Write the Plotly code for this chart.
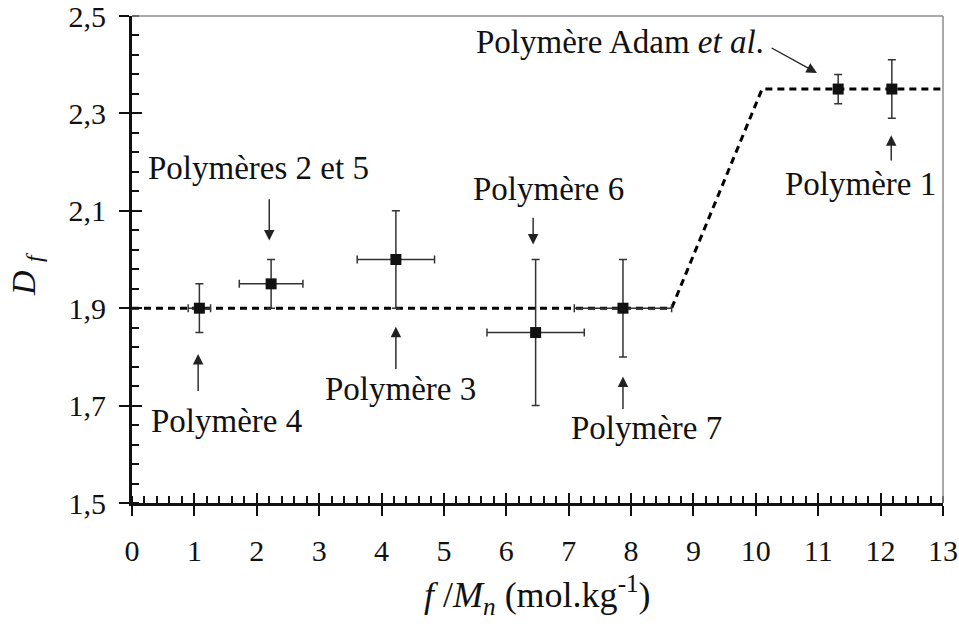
import plotly.graph_objects as go

# Measured fractal dimension D_f versus f/Mn for each polymer
f_mn = [1.08, 2.23, 4.23, 6.47, 7.87, 11.32, 12.18]
d_f = [1.90, 1.95, 2.00, 1.85, 1.90, 2.35, 2.35]
err_d = [0.05, 0.05, 0.10, 0.15, 0.10, 0.03, 0.06]
err_f = [0.18, 0.51, 0.62, 0.78, 0.78, 0.0, 0.0]

# Guide line: two plateaus joined by a ramp
guide_x = [0, 8.65, 10.1, 13]
guide_y = [1.90, 1.90, 2.35, 2.35]

# Axis tick values
x_ticks = [0, 1, 2, 3, 4, 5, 6, 7, 8, 9, 10, 11, 12, 13]
y_ticks = [1.5, 1.7, 1.9, 2.1, 2.3, 2.5]

# Labels: text position, arrow tail, arrow tip (data coordinates)
labels = ["Polymère 4", "Polymères 2 et 5", "Polymère 3", "Polymère 6",
          "Polymère 7", "Polymère Adam <i>et al</i>.", "Polymère 1"]
label_x = [1.51, 2.03, 4.31, 6.67, 8.24, 7.83, 11.68]
label_y = [1.669, 2.188, 1.735, 2.145, 1.653, 2.447, 2.155]
arrow_x0 = [1.06, 2.20, 4.23, 6.43, 7.87, 10.23, 12.17]
arrow_y0 = [1.727, 2.127, 1.772, 2.089, 1.690, 2.436, 2.200]
arrow_x1 = [1.06, 2.20, 4.23, 6.43, 7.87, 10.98, 12.17]
arrow_y1 = [1.806, 2.039, 1.862, 2.031, 1.760, 2.383, 2.255]

FONT = "Liberation Serif, Times New Roman, DejaVu Serif, serif"

fig = go.Figure()

fig.add_trace(go.Scatter(
    x=guide_x, y=guide_y, mode="lines",
    line=dict(color="black", width=3, dash="7px,5px"),
    hoverinfo="skip", showlegend=False,
))

fig.add_trace(go.Scatter(
    x=f_mn, y=d_f, mode="markers",
    marker=dict(symbol="square", size=11, color="#111111"),
    error_y=dict(type="data", array=err_d, visible=True,
                 color="#333333", thickness=1.5, width=4),
    error_x=dict(type="data", array=err_f, visible=True,
                 color="#333333", thickness=1.5, width=4),
    showlegend=False,
))

annotations = []
for t, lx, ly in zip(labels, label_x, label_y):
    annotations.append(dict(
        x=lx, y=ly, xref="x", yref="y", text=t, showarrow=False,
        font=dict(family=FONT, size=33, color="#111111"),
        xanchor="center", yanchor="middle",
    ))
for x0, y0, x1, y1 in zip(arrow_x0, arrow_y0, arrow_x1, arrow_y1):
    annotations.append(dict(
        x=x1, y=y1, ax=x0, ay=y0, xref="x", yref="y", axref="x", ayref="y",
        text="", showarrow=True, arrowhead=2, arrowsize=1.5,
        arrowwidth=1.4, arrowcolor="#222222", standoff=0, startstandoff=0,
    ))

# Axis titles
annotations.append(dict(
    x=0.5, y=0, xref="paper", yref="paper", yanchor="top", yshift=-65,
    text="<i>f</i> /<i>M</i><sub><i>n</i></sub> (mol.kg<sup>-1</sup>)",
    showarrow=False, font=dict(family=FONT, size=36, color="#111111"),
))
annotations.append(dict(
    x=0, y=0.47, xref="paper", yref="paper", xanchor="center",
    yanchor="middle", xshift=-106, textangle=-90,
    text="<i>D</i> <sub><i>f</i></sub>",
    showarrow=False, font=dict(family=FONT, size=34, color="#111111"),
))

fig.update_layout(
    width=959, height=628,
    margin=dict(l=132, r=16, t=16, b=124.5, pad=0),
    plot_bgcolor="white", paper_bgcolor="white",
    separators=", ",
    font=dict(family=FONT, size=30, color="#111111"),
    annotations=annotations,
    xaxis=dict(
        range=[0, 13], tickmode="array", tickvals=x_ticks,
        showgrid=False, zeroline=False, automargin=False,
        ticklabeloverflow="allow",
        showline=True, linecolor="#111111", linewidth=3,
        ticks="outside", ticklen=10, tickwidth=2, tickcolor="#111111",
        ticklabelstandoff=9,
        minor=dict(dtick=0.2, tick0=0, ticks="inside", ticklen=7,
                   tickwidth=2, tickcolor="#111111", showgrid=False),
    ),
    yaxis=dict(
        range=[1.5, 2.5], tickmode="array", tickvals=y_ticks,
        tickformat=".1f", ticklabeloverflow="allow",
        showgrid=False, zeroline=False, automargin=False,
        showline=True, linecolor="#111111", linewidth=3,
        ticks="outside", ticklen=10, tickwidth=2, tickcolor="#111111",
        ticklabelstandoff=7,
        minor=dict(dtick=0.04, tick0=1.5, ticks="inside", ticklen=7,
                   tickwidth=2, tickcolor="#111111", showgrid=False),
    ),
    # inner halves of the major ticks, so they cross the axis lines
    xaxis2=dict(
        overlaying="x", anchor="y", side="bottom", range=[0, 13],
        tickmode="array", tickvals=x_ticks, ticks="inside", ticklen=10,
        tickwidth=2, tickcolor="#111111", showticklabels=False,
        showgrid=False, zeroline=False, showline=False, automargin=False,
    ),
    yaxis2=dict(
        overlaying="y", anchor="x", side="left", range=[1.5, 2.5],
        tickmode="array", tickvals=y_ticks, ticks="inside", ticklen=10,
        tickwidth=2, tickcolor="#111111", showticklabels=False,
        showgrid=False, zeroline=False, showline=False, automargin=False,
    ),
    shapes=[
        dict(type="line", xref="paper", yref="paper", x0=0, x1=1, y0=1, y1=1,
             line=dict(color="#8c8c8c", width=1.5)),
        dict(type="line", xref="paper", yref="paper", x0=1, x1=1, y0=0, y1=1,
             line=dict(color="#8c8c8c", width=1.5)),
    ],
)

# dummy trace so the overlay axes are rendered
fig.add_trace(go.Scatter(x=[None], y=[None], xaxis="x2", yaxis="y2",
                         showlegend=False, hoverinfo="skip"))

fig.write_html("out.html")
